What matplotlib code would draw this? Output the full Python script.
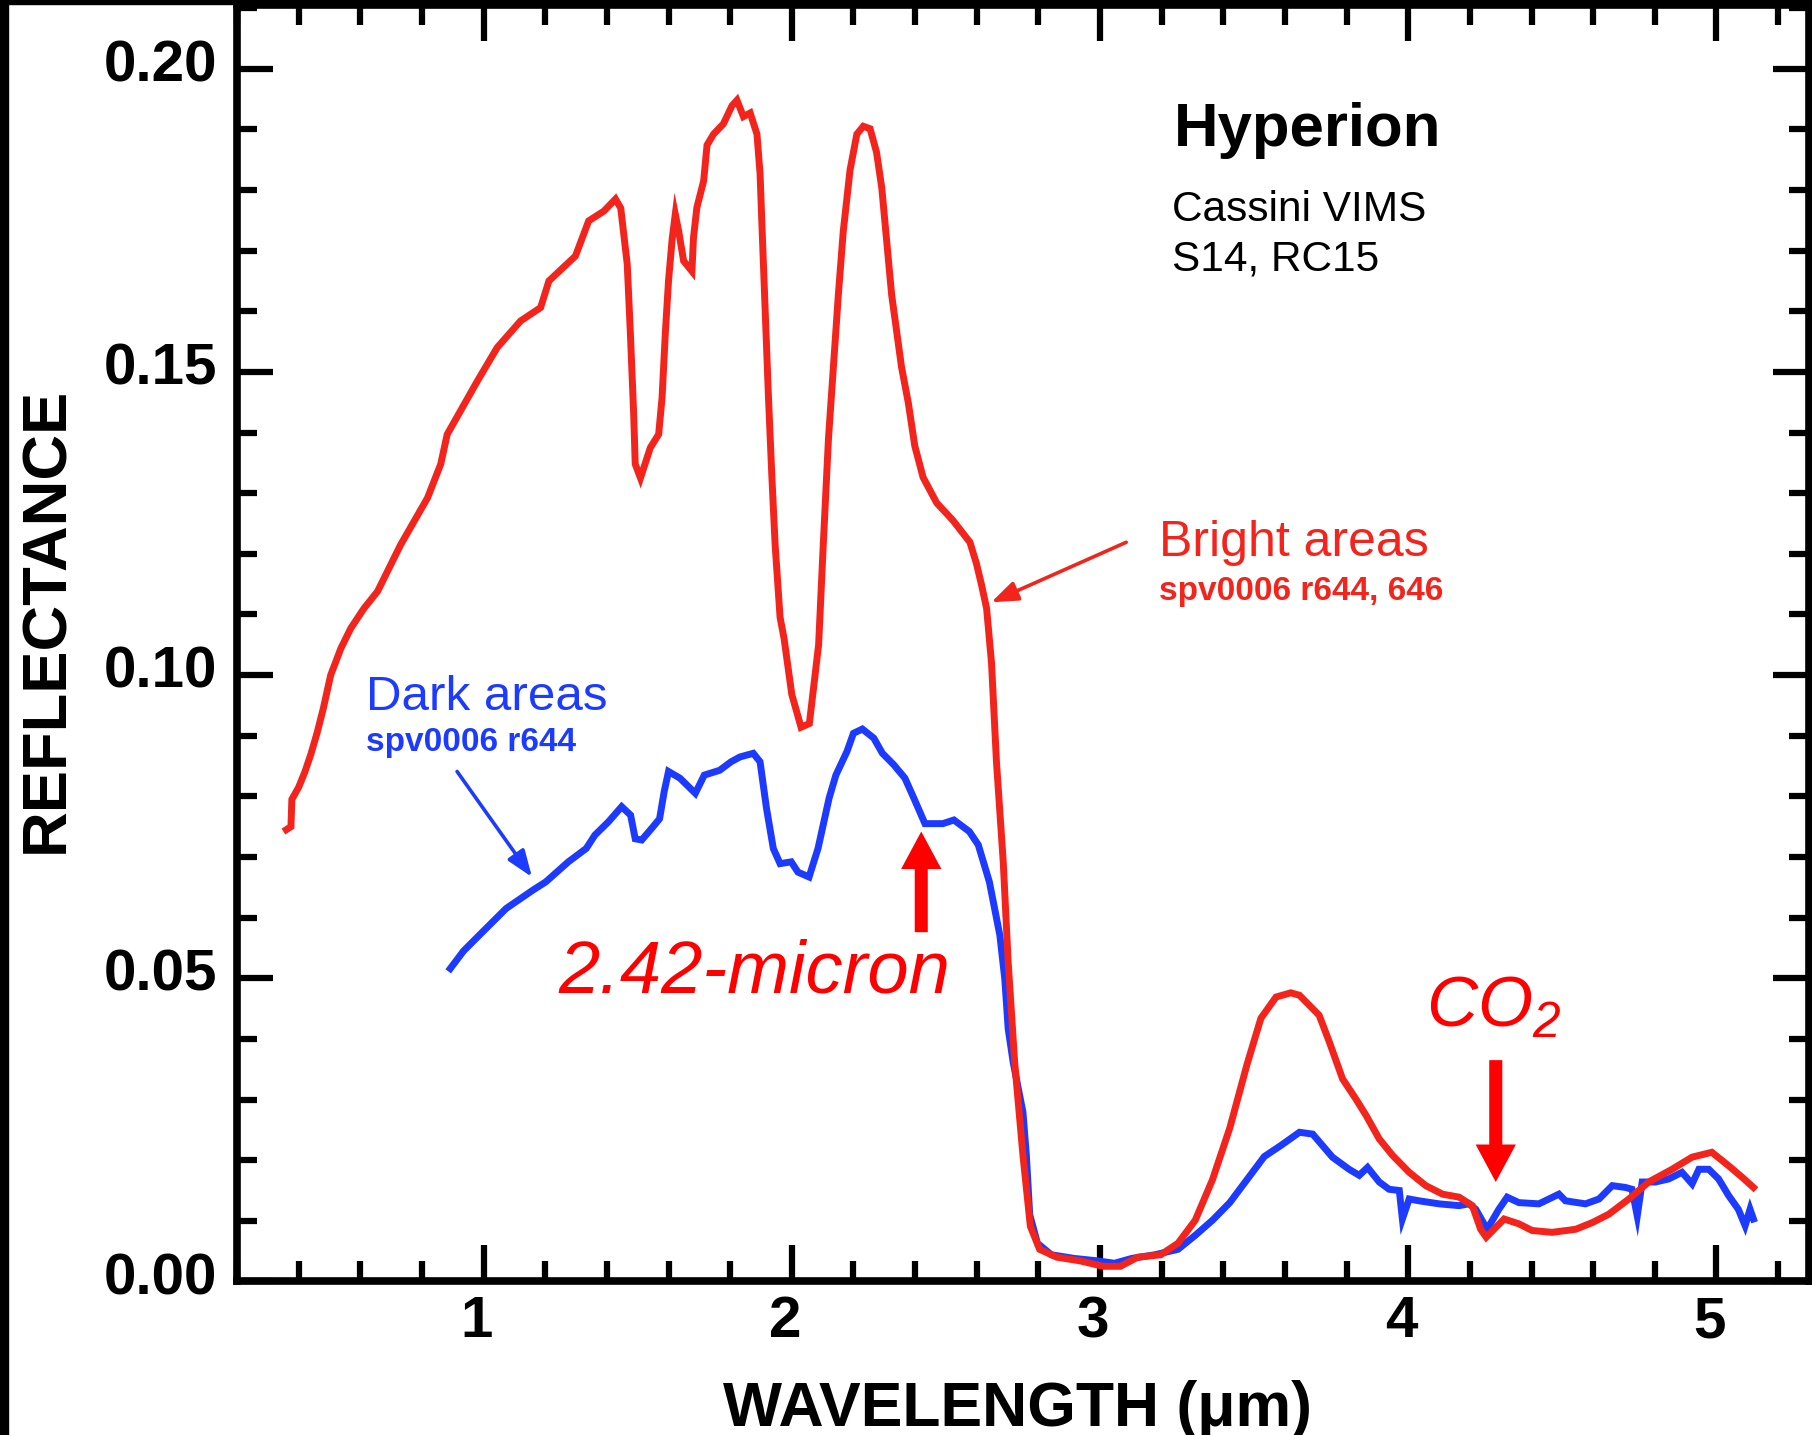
import matplotlib
matplotlib.use('Agg')
import matplotlib.pyplot as plt
from matplotlib.ticker import MultipleLocator, FormatStrFormatter
from matplotlib.patches import Rectangle
import matplotlib.transforms as mtransforms

plt.rcParams['font.family'] = ['Liberation Sans', 'DejaVu Sans']
plt.rcParams['mathtext.fontset'] = 'custom'
plt.rcParams['mathtext.it'] = 'Liberation Sans:italic'
plt.rcParams['mathtext.rm'] = 'Liberation Sans:italic'

# Bright areas spectrum (spv0006 r644, 646)
red_wl = [0.36, 0.375, 0.378, 0.40, 0.42, 0.44, 0.46, 0.48, 0.504, 0.537, 0.569, 0.612, 0.656,
          0.693, 0.731, 0.774, 0.818, 0.861, 0.882, 0.93, 0.98, 1.044, 1.12, 1.185, 1.212, 1.298,
          1.341, 1.39, 1.428, 1.445, 1.466, 1.476, 1.487, 1.492, 1.509, 1.541, 1.568, 1.579, 1.59,
          1.60, 1.612, 1.622, 1.633, 1.649, 1.676, 1.681, 1.692, 1.714, 1.725, 1.746, 1.778, 1.806,
          1.822, 1.843, 1.865, 1.887, 1.897, 1.903, 1.914, 1.924, 1.935, 1.946, 1.962, 1.975, 2.00,
          2.03, 2.057, 2.087, 2.102, 2.119, 2.135, 2.151, 2.167, 2.189, 2.211, 2.232, 2.254, 2.275,
          2.292, 2.308, 2.324, 2.34, 2.356, 2.378, 2.399, 2.426, 2.47, 2.523, 2.578, 2.599, 2.615,
          2.632, 2.648, 2.664, 2.686, 2.702, 2.723, 2.75, 2.774, 2.804, 2.86, 2.935, 3.01, 3.066,
          3.122, 3.197, 3.253, 3.309, 3.365, 3.421, 3.477, 3.522, 3.571, 3.619, 3.647, 3.711, 3.744,
          3.787, 3.83, 3.863, 3.906, 3.949, 4.003, 4.057, 4.111, 4.165, 4.208, 4.235, 4.253, 4.284,
          4.311, 4.359, 4.402, 4.467, 4.543, 4.597, 4.651, 4.716, 4.78, 4.856, 4.921, 4.985, 5.039,
          5.083, 5.12]
red_refl = [0.0745, 0.0750, 0.0795, 0.0815, 0.0840, 0.0870, 0.0905, 0.0945, 0.1000, 0.1044, 0.1077,
            0.1110, 0.1138, 0.1176, 0.1215, 0.1253, 0.1292, 0.1348, 0.1397, 0.1440, 0.1485, 0.1540,
            0.1584, 0.1606, 0.1650, 0.1691, 0.1749, 0.1765, 0.1785, 0.1770, 0.1678, 0.1567, 0.1430,
            0.1348, 0.1325, 0.1375, 0.1397, 0.1457, 0.1567, 0.1650, 0.1720, 0.1760, 0.1732, 0.1683,
            0.1666, 0.1721, 0.1771, 0.1815, 0.1874, 0.1892, 0.1909, 0.1939, 0.1948, 0.1921, 0.1927,
            0.1892, 0.1827, 0.1744, 0.1597, 0.1462, 0.1331, 0.1214, 0.1095, 0.1060, 0.0968, 0.0914,
            0.0920, 0.1050, 0.1214, 0.1390, 0.1508, 0.1627, 0.1732, 0.1833, 0.1892, 0.1905, 0.1901,
            0.1862, 0.1803, 0.1715, 0.1627, 0.1567, 0.1508, 0.1449, 0.1378, 0.1326, 0.1284, 0.1255,
            0.1219, 0.1184, 0.1150, 0.1110, 0.1020, 0.0857, 0.0692, 0.0527, 0.0362, 0.0208, 0.0091,
            0.0053, 0.0040, 0.0034, 0.0025, 0.0025, 0.0040, 0.0044, 0.0063, 0.0101, 0.0168, 0.0253,
            0.0358, 0.0434, 0.0469, 0.0476, 0.0472, 0.0439, 0.0395, 0.0334, 0.0301, 0.0274, 0.0235,
            0.0208, 0.0180, 0.0158, 0.0144, 0.0139, 0.0125, 0.0086, 0.0073, 0.0089, 0.0103, 0.0095,
            0.0084, 0.0081, 0.0086, 0.0097, 0.0111, 0.0136, 0.0164, 0.0185, 0.0205, 0.0213, 0.0191,
            0.0172, 0.0155]

# Dark areas spectrum (spv0006 r644)
blue_wl = [0.892, 0.935, 0.986, 1.073, 1.159, 1.202, 1.275, 1.333, 1.361, 1.405, 1.448, 1.477, 1.492,
           1.513, 1.55, 1.571, 1.586, 1.60, 1.637, 1.687, 1.716, 1.766, 1.803, 1.832, 1.875, 1.897,
           1.918, 1.94, 1.962, 1.998, 2.02, 2.056, 2.085, 2.121, 2.143, 2.179, 2.20, 2.229, 2.266,
           2.294, 2.331, 2.367, 2.396, 2.432, 2.49, 2.526, 2.576, 2.605, 2.641, 2.675, 2.691, 2.702,
           2.718, 2.75, 2.761, 2.772, 2.797, 2.842, 2.916, 2.991, 3.047, 3.103, 3.178, 3.253, 3.309,
           3.365, 3.421, 3.477, 3.533, 3.589, 3.647, 3.69, 3.722, 3.754, 3.808, 3.841, 3.868, 3.906,
           3.938, 3.971, 3.981, 4.003, 4.035, 4.10, 4.165, 4.197, 4.219, 4.256, 4.294, 4.321, 4.359,
           4.424, 4.489, 4.51, 4.575, 4.619, 4.662, 4.705, 4.726, 4.743, 4.759, 4.802, 4.845, 4.888,
           4.921, 4.943, 4.975, 5.007, 5.039, 5.071, 5.093, 5.109, 5.12]
blue_refl = [0.0516, 0.0545, 0.0571, 0.0615, 0.0645, 0.0659, 0.0692, 0.0714, 0.0736, 0.0758, 0.0783,
             0.0769, 0.0730, 0.0728, 0.0750, 0.0763, 0.0808, 0.0841, 0.0830, 0.0805, 0.0835, 0.0843,
             0.0857, 0.0865, 0.0871, 0.0857, 0.0780, 0.0714, 0.0689, 0.0692, 0.0675, 0.0667, 0.0714,
             0.0797, 0.0835, 0.0874, 0.0904, 0.0911, 0.0896, 0.0871, 0.0852, 0.0830, 0.0797, 0.0755,
             0.0755, 0.0761, 0.0742, 0.0720, 0.0659, 0.0571, 0.0499, 0.0417, 0.0362, 0.0279, 0.0208,
             0.0110, 0.0063, 0.0044, 0.0038, 0.0034, 0.0030, 0.0038, 0.0044, 0.0053, 0.0076, 0.0101,
             0.0130, 0.0168, 0.0206, 0.0225, 0.0246, 0.0243, 0.0224, 0.0205, 0.0185, 0.0175, 0.0188,
             0.0164, 0.0152, 0.0150, 0.0103, 0.0136, 0.0133, 0.0128, 0.0125, 0.0128, 0.0119, 0.0086,
             0.0119, 0.0139, 0.0130, 0.0128, 0.0144, 0.0133, 0.0128, 0.0136, 0.0158, 0.0155, 0.0152,
             0.0108, 0.0164, 0.0164, 0.0169, 0.0180, 0.0161, 0.0185, 0.0185, 0.0169, 0.0142, 0.0119,
             0.0092, 0.0119, 0.0103]

RED = '#f2241c'
BLUE = '#1c3bff'
PURE_RED = '#ff0000'

fig = plt.figure(figsize=(18.12, 14.35), dpi=100)
ax = fig.add_axes([0.1308, 0.1070, 0.8675, 0.8895])

ax.plot(red_wl, red_refl, color=RED, lw=5, solid_joinstyle='miter', zorder=3)
ax.plot(blue_wl, blue_refl, color=BLUE, lw=5, solid_joinstyle='miter', zorder=2)

ax.set_xlim(0.2, 5.3)
ax.set_ylim(0, 0.2105)

ax.xaxis.set_major_locator(MultipleLocator(1))
ax.xaxis.set_minor_locator(MultipleLocator(0.2))
ax.yaxis.set_major_locator(MultipleLocator(0.05))
ax.yaxis.set_minor_locator(MultipleLocator(0.01))
ax.yaxis.set_major_formatter(FormatStrFormatter('%.2f'))

ax.tick_params(which='both', direction='in', top=True, right=True, width=4.5, color='black')
ax.tick_params(which='major', length=26)
ax.tick_params(which='minor', length=14.5)
ax.tick_params(axis='x', which='major', labelsize=42, pad=10)
ax.tick_params(axis='y', which='major', labelsize=42, pad=14)
for lab in ax.get_xticklabels() + ax.get_yticklabels():
    lab.set_fontweight('bold')
offset = mtransforms.ScaledTranslation(0, 6 / 72, fig.dpi_scale_trans)
for lab in ax.get_yticklabels():
    lab.set_transform(lab.get_transform() + offset)
xoff = mtransforms.ScaledTranslation(-5 / 72, 0, fig.dpi_scale_trans)
for lab in ax.get_xticklabels():
    lab.set_transform(lab.get_transform() + xoff)

for sp in ax.spines.values():
    sp.set_linewidth(5.5)

fig.text(47 / 1812, 1 - 620 / 1435, 'REFLECTANCE', rotation=90, ha='center', va='center',
         fontsize=45.5, fontweight='bold')
fig.text(1017 / 1812, 1 - 1426 / 1435, 'WAVELENGTH (\u03bcm)', ha='center', va='baseline',
         fontsize=45, fontweight='bold')

# labels in the plot
ax.text(3.24, 0.1873, 'Hyperion', fontsize=44.5, fontweight='bold', ha='left', va='baseline')
ax.text(3.234, 0.1749, 'Cassini VIMS', fontsize=30.5, ha='left', va='baseline')
ax.text(3.234, 0.1668, 'S14, RC15', fontsize=30.5, ha='left', va='baseline')

ax.text(3.191, 0.1196, 'Bright areas', fontsize=36, color=RED, ha='left', va='baseline')
ax.text(3.191, 0.1124, 'spv0006 r644, 646', fontsize=24, fontweight='bold', color=RED,
        ha='left', va='baseline')
ax.text(0.618, 0.0943, 'Dark areas', fontsize=35.5, color=BLUE, ha='left', va='baseline')
ax.text(0.618, 0.0874, 'spv0006 r644', fontsize=24, fontweight='bold', color=BLUE,
        ha='left', va='baseline')

ax.text(1.244, 0.0477, '2.42-micron', fontsize=53.5, style='italic', color=PURE_RED,
        ha='left', va='baseline')
ax.text(4.058, 0.0420, r'$CO_{2}$', fontsize=51, color=PURE_RED, ha='left', va='baseline')

# pointer arrows
ax.annotate('', xy=(1.157, 0.0667), xytext=(0.914, 0.0841),
            arrowprops=dict(arrowstyle='-|>,head_length=0.8,head_width=0.3', color=BLUE,
                            lw=2.6, mutation_scale=20, shrinkA=0, shrinkB=0))
ax.annotate('', xy=(2.647, 0.1120), xytext=(3.085, 0.1219),
            arrowprops=dict(arrowstyle='-|>,head_length=0.8,head_width=0.3', color=RED,
                            lw=2.6, mutation_scale=20, shrinkA=0, shrinkB=0))

# thick band arrows
big = 'simple,head_length=27,head_width=29,tail_width=9.4'
ax.annotate('', xy=(2.42, 0.0742), xytext=(2.42, 0.0576),
            arrowprops=dict(arrowstyle=big, color=PURE_RED, lw=0, mutation_scale=1,
                            shrinkA=0, shrinkB=0))
ax.annotate('', xy=(4.284, 0.0164), xytext=(4.284, 0.0365),
            arrowprops=dict(arrowstyle=big, color=PURE_RED, lw=0, mutation_scale=1,
                            shrinkA=0, shrinkB=0))

# black frame edges of the original scan
fig.patches.append(Rectangle((0, 0), 8 / 1812, 1, transform=fig.transFigure,
                             color='black', zorder=10))
fig.patches.append(Rectangle((0, 1 - 4 / 1435), 1, 4 / 1435, transform=fig.transFigure,
                             color='black', zorder=10))

fig.savefig('out.png', dpi=100)
